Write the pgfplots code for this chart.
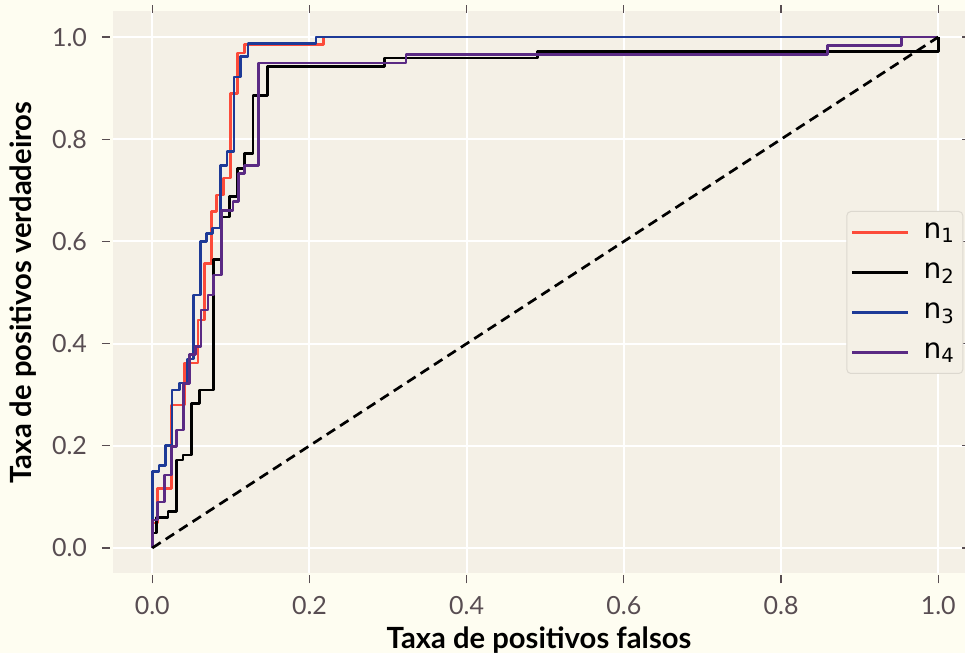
\documentclass[border=0pt]{standalone}
\usepackage{fontspec}
\setmainfont{Lato}
\newfontfamily\dejavu{DejaVu Sans}
\usepackage{pgfplots}
\pgfplotsset{compat=1.18}
\definecolor{figbg}{HTML}{FEFDF1}
\definecolor{axbg}{HTML}{F4F0E6}
\definecolor{ticklab}{HTML}{584D52}
\definecolor{legborder}{HTML}{DCD8CF}
\definecolor{cred}{HTML}{FC4B3A}
\definecolor{cblue}{HTML}{1D3A97}
\definecolor{cpurple}{HTML}{5A2A84}
\begin{document}
\begin{tikzpicture}[x=1pt,y=1pt]
\fill[figbg] (-56.5,-39.75) rectangle (426,286.75);
\useasboundingbox (-56.5,-39.75) rectangle (426,286.75);
\begin{axis}[
  at={(0pt,0pt)}, anchor=south west,
  width=426pt, height=281pt, scale only axis,
  xmin=-0.05, xmax=1.034, ymin=-0.05, ymax=1.05,
  axis background/.style={fill=axbg},
  axis line style={draw=none},
  grid=major, grid style={white, line width=1pt},
  xtick={0,0.2,0.4,0.6,0.8,1.0},
  ytick={0,0.2,0.4,0.6,0.8,1.0},
  tick align=outside, major tick length=4pt,
  tick style={color=ticklab, line width=0.6pt},
  xtick style={yshift=-1pt},
  ytick style={xshift=-1.5pt},
  xticklabel style={font=\fontsize{12.5}{14}\selectfont, text=ticklab, yshift=-4pt},
  yticklabel style={font=\fontsize{12.5}{14}\selectfont, text=ticklab, xshift=-5.5pt},
  /pgf/number format/.cd, fixed, fixed zerofill, precision=1, assume math mode=true,
  /pgfplots/.cd,
  xlabel={Taxa de positivos falsos},
  ylabel={Taxa de positivos verdadeiros},
  xlabel style={font=\bfseries\fontsize{14.6}{16}\selectfont, yshift=0.8pt},
  ylabel style={font=\bfseries\fontsize{14.6}{16}\selectfont, yshift=1pt},
  legend style={at={(0.998,0.5)}, anchor=east, draw=legborder, fill=axbg,
    rounded corners=2pt, line width=0.5pt,
    font=\dejavu\fontsize{14}{16}\selectfont,
    inner xsep=2pt, inner ysep=1.5pt, row sep=2pt,
    nodes={text height=10pt, text depth=4pt},
    /tikz/every odd column/.append style={column sep=5pt}},
  legend cell align=left,
  legend image code/.code={\draw[#1] (0pt,0pt) -- (28pt,0pt);},
  every axis plot/.append style={line width=1.35pt, line join=round},
]
\addplot[cred] coordinates {(0,0) (0,0.049) (0.007,0.049) (0.007,0.117) (0.024,0.117) (0.024,0.28) (0.041,0.28) (0.041,0.362) (0.058,0.362) (0.058,0.446) (0.066,0.446) (0.066,0.557) (0.075,0.557) (0.075,0.658) (0.0815,0.658) (0.0815,0.691) (0.091,0.691) (0.091,0.724) (0.0995,0.724) (0.0995,0.89) (0.108,0.89) (0.108,0.969) (0.117,0.969) (0.117,0.986) (0.218,0.986) (0.218,1) (1,1)};
\addlegendentry{n\textsubscript{1}}
\addplot[black] coordinates {(0,0) (0,0.029) (0.005,0.029) (0.005,0.059) (0.02,0.059) (0.02,0.071) (0.0305,0.071) (0.0305,0.172) (0.039,0.172) (0.039,0.182) (0.0496,0.182) (0.0496,0.283) (0.06,0.283) (0.06,0.309) (0.078,0.309) (0.078,0.564) (0.088,0.564) (0.088,0.648) (0.098,0.648) (0.098,0.688) (0.108,0.688) (0.108,0.743) (0.117,0.743) (0.117,0.772) (0.128,0.772) (0.128,0.886) (0.147,0.886) (0.147,0.943) (0.295,0.943) (0.295,0.959) (0.49,0.959) (0.49,0.972) (1,0.972) (1,1)};
\addlegendentry{n\textsubscript{2}}
\addplot[cblue] coordinates {(0,0) (0,0.149) (0.0085,0.149) (0.0085,0.162) (0.0165,0.162) (0.0165,0.2) (0.025,0.2) (0.025,0.309) (0.035,0.309) (0.035,0.323) (0.045,0.323) (0.045,0.37) (0.052,0.37) (0.052,0.495) (0.061,0.495) (0.061,0.6) (0.0686,0.6) (0.0686,0.616) (0.077,0.616) (0.077,0.626) (0.087,0.626) (0.087,0.749) (0.095,0.749) (0.095,0.776) (0.104,0.776) (0.104,0.922) (0.112,0.922) (0.112,0.962) (0.1216,0.962) (0.1216,0.988) (0.2084,0.988) (0.2084,1) (1,1)};
\addlegendentry{n\textsubscript{3}}
\addplot[cpurple] coordinates {(0,0) (0,0.055) (0.007,0.055) (0.007,0.09) (0.0157,0.09) (0.0157,0.143) (0.024,0.143) (0.024,0.198) (0.0305,0.198) (0.0305,0.231) (0.040,0.231) (0.040,0.322) (0.047,0.322) (0.047,0.378) (0.055,0.378) (0.055,0.394) (0.062,0.394) (0.062,0.466) (0.0707,0.466) (0.0707,0.495) (0.078,0.495) (0.078,0.534) (0.0877,0.534) (0.0877,0.661) (0.1025,0.661) (0.1025,0.678) (0.11,0.678) (0.11,0.733) (0.117,0.733) (0.117,0.749) (0.135,0.749) (0.135,0.949) (0.3226,0.949) (0.3226,0.966) (0.8587,0.966) (0.8587,0.984) (0.9536,0.984) (0.9536,1) (1,1)};
\addlegendentry{n\textsubscript{4}}
\addplot[black, dash pattern=on 5pt off 3pt, forget plot] coordinates {(0,0) (1,1)};
\end{axis}
\end{tikzpicture}
\end{document}
